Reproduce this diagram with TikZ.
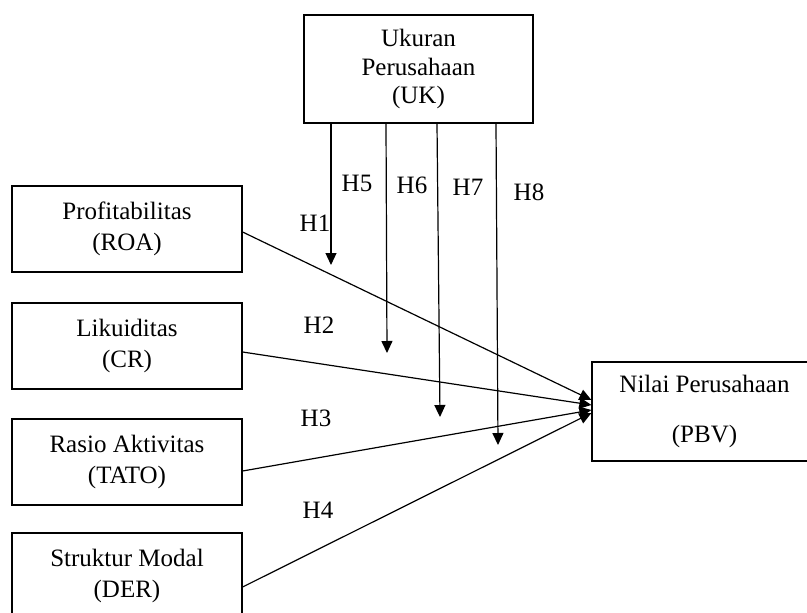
\documentclass[tikz,border=0pt]{standalone}
\usepackage{fontspec}
\setmainfont{Liberation Serif}
\usetikzlibrary{arrows.meta,calc}

\begin{document}
\begin{tikzpicture}[x=1pt, y=-1pt,
    var/.style={draw, rectangle, line width=1.2pt, minimum width=230pt, minimum height=86pt, align=center, font=\fontsize{25}{31}\selectfont},
    hyp/.style={font=\fontsize{25}{31}\selectfont, inner sep=0pt},
    link/.style={line width=1.2pt, -{Triangle[length=12pt,width=11pt]}}]
    \useasboundingbox (0,0) rectangle (807,613);

    % Moderating Variable
    \node[var, minimum width=229pt, minimum height=108pt, font=\fontsize{25}{28.5}\selectfont] (uk) at (418.5,69) {Ukuran\\Perusahaan\\(UK)};

    % Independent Variables
    \node[var] (roa) at (127,229) {Profitabilitas\\(ROA)};
    \node[var] (cr) at (127,346) {Likuiditas\\(CR)};
    \node[var] (tato) at (127,462) {Rasio Aktivitas\\(TATO)};
    \node[var] (der) at (127,576) {Struktur Modal\\(DER)};

    % Dependent Variable
    \node[var, minimum width=225pt, minimum height=99pt] (pbv) at (704.5,411.5) {Nilai Perusahaan\\[19pt](PBV)};

    % Hypotheses
    \node[hyp] (h1) at (315,223) {H1};
    \node[hyp] (h2) at (319,325) {H2};
    \node[hyp] (h3) at (316,418) {H3};
    \node[hyp] (h4) at (318,510) {H4};
    \node[hyp] (h5) at (357,183) {H5};
    \node[hyp] (h6) at (412,185) {H6};
    \node[hyp] (h7) at (468,187) {H7};
    \node[hyp] (h8) at (529,192) {H8};

    % Moderation end points
    \coordinate (m5) at (331,265);
    \coordinate (m6) at (387,353);
    \coordinate (m7) at (440,417);
    \coordinate (m8) at (498,445);

    % Direct effects
    \draw[link] ($(roa.east)+(0,3)$) -- ($(pbv.west)+(0,-11.5)$);
    \draw[link] ($(cr.east)+(0,6)$) -- ($(pbv.west)+(0,-6.5)$);
    \draw[link] ($(tato.east)+(0,9)$) -- ($(pbv.west)+(0,-1.5)$);
    \draw[link] ($(der.east)+(0,11)$) -- ($(pbv.west)+(0,1.5)$);

    % Moderating effects
    \draw[link] ($(uk.south)+(-87.5,0)$) -- (m5);
    \draw[link] ($(uk.south)+(-32.5,0)$) -- (m6);
    \draw[link] ($(uk.south)+(18.5,0)$) -- (m7);
    \draw[link] ($(uk.south)+(77.5,0)$) -- (m8);
\end{tikzpicture}
\end{document}
